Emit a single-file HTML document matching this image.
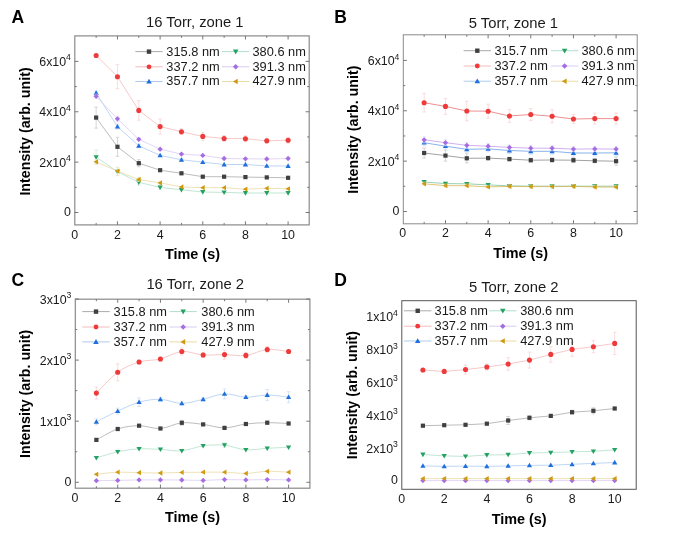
<!DOCTYPE html>
<html><head><meta charset="utf-8"><title>Intensity vs time</title>
<style>
html,body{margin:0;padding:0;background:#fff;}
body{width:685px;height:534px;overflow:hidden;}
svg{display:block;font-family:"Liberation Sans",sans-serif;will-change:transform;}
</style></head>
<body>
<svg width="685" height="534" viewBox="0 0 685 534">
<rect width="685" height="534" fill="#fff"/>
<text x="11.50" y="23.00" font-size="17.5" text-anchor="start" font-weight="bold" fill="#000" >A</text>
<text x="194.80" y="27.20" font-size="14.8" text-anchor="middle" font-weight="normal" fill="#1a1a1a" >16 Torr, zone 1</text>
<path d="M96.13,117.60 L117.46,146.80 L138.79,163.20 L160.12,170.20 L181.45,173.30 L202.78,176.70 L224.11,176.70 L245.44,177.10 L266.77,177.40 L288.10,177.80" fill="none" stroke="#ababab" stroke-width="0.8"/>
<path d="M96.13,107.10V128.10M94.33,107.10h3.6M94.33,128.10h3.6" stroke="#c8c8c8" stroke-width="0.75" fill="none"/>
<path d="M117.46,137.30V156.30M115.66,137.30h3.6M115.66,156.30h3.6" stroke="#c8c8c8" stroke-width="0.75" fill="none"/>
<path d="M138.79,159.70V166.70M136.99,159.70h3.6M136.99,166.70h3.6" stroke="#c8c8c8" stroke-width="0.75" fill="none"/>
<rect x="94.03" y="115.50" width="4.20" height="4.20" fill="#404040"/>
<rect x="115.36" y="144.70" width="4.20" height="4.20" fill="#404040"/>
<rect x="136.69" y="161.10" width="4.20" height="4.20" fill="#404040"/>
<rect x="158.02" y="168.10" width="4.20" height="4.20" fill="#404040"/>
<rect x="179.35" y="171.20" width="4.20" height="4.20" fill="#404040"/>
<rect x="200.68" y="174.60" width="4.20" height="4.20" fill="#404040"/>
<rect x="222.01" y="174.60" width="4.20" height="4.20" fill="#404040"/>
<rect x="243.34" y="175.00" width="4.20" height="4.20" fill="#404040"/>
<rect x="264.67" y="175.30" width="4.20" height="4.20" fill="#404040"/>
<rect x="286.00" y="175.70" width="4.20" height="4.20" fill="#404040"/>
<path d="M96.13,55.50 L117.46,76.70 L138.79,110.40 L160.12,126.60 L181.45,131.70 L202.78,136.40 L224.11,138.50 L245.44,138.70 L266.77,140.80 L288.10,140.20" fill="none" stroke="#f5baba" stroke-width="0.8"/>
<path d="M117.46,64.70V88.70M115.66,64.70h3.6M115.66,88.70h3.6" stroke="#f8d2d2" stroke-width="0.75" fill="none"/>
<path d="M138.79,100.60V120.20M136.99,100.60h3.6M136.99,120.20h3.6" stroke="#f8d2d2" stroke-width="0.75" fill="none"/>
<path d="M160.12,119.10V134.10M158.32,119.10h3.6M158.32,134.10h3.6" stroke="#f8d2d2" stroke-width="0.75" fill="none"/>
<path d="M181.45,128.70V134.70M179.65,128.70h3.6M179.65,134.70h3.6" stroke="#f8d2d2" stroke-width="0.75" fill="none"/>
<path d="M202.78,132.40V140.40M200.98,132.40h3.6M200.98,140.40h3.6" stroke="#f8d2d2" stroke-width="0.75" fill="none"/>
<path d="M224.11,135.50V141.50M222.31,135.50h3.6M222.31,141.50h3.6" stroke="#f8d2d2" stroke-width="0.75" fill="none"/>
<path d="M245.44,135.70V141.70M243.64,135.70h3.6M243.64,141.70h3.6" stroke="#f8d2d2" stroke-width="0.75" fill="none"/>
<path d="M266.77,138.30V143.30M264.97,138.30h3.6M264.97,143.30h3.6" stroke="#f8d2d2" stroke-width="0.75" fill="none"/>
<path d="M288.10,137.20V143.20M286.30,137.20h3.6M286.30,143.20h3.6" stroke="#f8d2d2" stroke-width="0.75" fill="none"/>
<circle cx="96.13" cy="55.50" r="2.55" fill="#ee3a3a"/>
<circle cx="117.46" cy="76.70" r="2.55" fill="#ee3a3a"/>
<circle cx="138.79" cy="110.40" r="2.55" fill="#ee3a3a"/>
<circle cx="160.12" cy="126.60" r="2.55" fill="#ee3a3a"/>
<circle cx="181.45" cy="131.70" r="2.55" fill="#ee3a3a"/>
<circle cx="202.78" cy="136.40" r="2.55" fill="#ee3a3a"/>
<circle cx="224.11" cy="138.50" r="2.55" fill="#ee3a3a"/>
<circle cx="245.44" cy="138.70" r="2.55" fill="#ee3a3a"/>
<circle cx="266.77" cy="140.80" r="2.55" fill="#ee3a3a"/>
<circle cx="288.10" cy="140.20" r="2.55" fill="#ee3a3a"/>
<path d="M96.13,93.00 L117.46,126.60 L138.79,145.80 L160.12,155.40 L181.45,159.80 L202.78,162.10 L224.11,164.50 L245.44,164.50 L266.77,165.90 L288.10,166.00" fill="none" stroke="#afcbf0" stroke-width="0.8"/>
<path d="M96.13,91.00V95.00M94.33,91.00h3.6M94.33,95.00h3.6" stroke="#cbddf5" stroke-width="0.75" fill="none"/>
<path d="M117.46,124.10V129.10M115.66,124.10h3.6M115.66,129.10h3.6" stroke="#cbddf5" stroke-width="0.75" fill="none"/>
<path d="M138.79,144.30V147.30M136.99,144.30h3.6M136.99,147.30h3.6" stroke="#cbddf5" stroke-width="0.75" fill="none"/>
<path d="M181.45,158.30V161.30M179.65,158.30h3.6M179.65,161.30h3.6" stroke="#cbddf5" stroke-width="0.75" fill="none"/>
<polygon points="96.13,90.35 98.78,94.91 93.48,94.91" fill="#1f6fdc"/>
<polygon points="117.46,123.95 120.11,128.51 114.81,128.51" fill="#1f6fdc"/>
<polygon points="138.79,143.15 141.44,147.71 136.14,147.71" fill="#1f6fdc"/>
<polygon points="160.12,152.75 162.77,157.31 157.47,157.31" fill="#1f6fdc"/>
<polygon points="181.45,157.15 184.10,161.71 178.80,161.71" fill="#1f6fdc"/>
<polygon points="202.78,159.45 205.43,164.01 200.13,164.01" fill="#1f6fdc"/>
<polygon points="224.11,161.85 226.76,166.41 221.46,166.41" fill="#1f6fdc"/>
<polygon points="245.44,161.85 248.09,166.41 242.79,166.41" fill="#1f6fdc"/>
<polygon points="266.77,163.25 269.42,167.81 264.12,167.81" fill="#1f6fdc"/>
<polygon points="288.10,163.35 290.75,167.91 285.45,167.91" fill="#1f6fdc"/>
<path d="M96.13,157.10 L117.46,171.70 L138.79,182.30 L160.12,187.40 L181.45,189.80 L202.78,192.00 L224.11,192.40 L245.44,193.00 L266.77,193.00 L288.10,193.00" fill="none" stroke="#b0dfc9" stroke-width="0.8"/>
<path d="M96.13,150.10V164.10M94.33,150.10h3.6M94.33,164.10h3.6" stroke="#cceadc" stroke-width="0.75" fill="none"/>
<path d="M117.46,167.70V175.70M115.66,167.70h3.6M115.66,175.70h3.6" stroke="#cceadc" stroke-width="0.75" fill="none"/>
<path d="M138.79,179.30V185.30M136.99,179.30h3.6M136.99,185.30h3.6" stroke="#cceadc" stroke-width="0.75" fill="none"/>
<path d="M160.12,185.40V189.40M158.32,185.40h3.6M158.32,189.40h3.6" stroke="#cceadc" stroke-width="0.75" fill="none"/>
<polygon points="96.13,159.75 98.78,155.19 93.48,155.19" fill="#25a263"/>
<polygon points="117.46,174.35 120.11,169.79 114.81,169.79" fill="#25a263"/>
<polygon points="138.79,184.95 141.44,180.39 136.14,180.39" fill="#25a263"/>
<polygon points="160.12,190.05 162.77,185.49 157.47,185.49" fill="#25a263"/>
<polygon points="181.45,192.45 184.10,187.89 178.80,187.89" fill="#25a263"/>
<polygon points="202.78,194.65 205.43,190.09 200.13,190.09" fill="#25a263"/>
<polygon points="224.11,195.05 226.76,190.49 221.46,190.49" fill="#25a263"/>
<polygon points="245.44,195.65 248.09,191.09 242.79,191.09" fill="#25a263"/>
<polygon points="266.77,195.65 269.42,191.09 264.12,191.09" fill="#25a263"/>
<polygon points="288.10,195.65 290.75,191.09 285.45,191.09" fill="#25a263"/>
<path d="M96.13,96.30 L117.46,118.80 L138.79,139.30 L160.12,149.20 L181.45,154.10 L202.78,155.40 L224.11,158.50 L245.44,158.80 L266.77,159.00 L288.10,158.50" fill="none" stroke="#dacbf4" stroke-width="0.8"/>
<path d="M96.13,94.30V98.30M94.33,94.30h3.6M94.33,98.30h3.6" stroke="#e7ddf8" stroke-width="0.75" fill="none"/>
<path d="M117.46,116.30V121.30M115.66,116.30h3.6M115.66,121.30h3.6" stroke="#e7ddf8" stroke-width="0.75" fill="none"/>
<path d="M138.79,137.80V140.80M136.99,137.80h3.6M136.99,140.80h3.6" stroke="#e7ddf8" stroke-width="0.75" fill="none"/>
<polygon points="96.13,93.65 98.78,96.30 96.13,98.95 93.48,96.30" fill="#a66ce2"/>
<polygon points="117.46,116.15 120.11,118.80 117.46,121.45 114.81,118.80" fill="#a66ce2"/>
<polygon points="138.79,136.65 141.44,139.30 138.79,141.95 136.14,139.30" fill="#a66ce2"/>
<polygon points="160.12,146.55 162.77,149.20 160.12,151.85 157.47,149.20" fill="#a66ce2"/>
<polygon points="181.45,151.45 184.10,154.10 181.45,156.75 178.80,154.10" fill="#a66ce2"/>
<polygon points="202.78,152.75 205.43,155.40 202.78,158.05 200.13,155.40" fill="#a66ce2"/>
<polygon points="224.11,155.85 226.76,158.50 224.11,161.15 221.46,158.50" fill="#a66ce2"/>
<polygon points="245.44,156.15 248.09,158.80 245.44,161.45 242.79,158.80" fill="#a66ce2"/>
<polygon points="266.77,156.35 269.42,159.00 266.77,161.65 264.12,159.00" fill="#a66ce2"/>
<polygon points="288.10,155.85 290.75,158.50 288.10,161.15 285.45,158.50" fill="#a66ce2"/>
<path d="M96.13,161.80 L117.46,171.10 L138.79,179.50 L160.12,182.90 L181.45,186.90 L202.78,187.70 L224.11,187.70 L245.44,189.20 L266.77,188.30 L288.10,188.80" fill="none" stroke="#eadba4" stroke-width="0.8"/>
<path d="M96.13,159.80V163.80M94.33,159.80h3.6M94.33,163.80h3.6" stroke="#f1e8c4" stroke-width="0.75" fill="none"/>
<path d="M117.46,167.10V175.10M115.66,167.10h3.6M115.66,175.10h3.6" stroke="#f1e8c4" stroke-width="0.75" fill="none"/>
<path d="M138.79,177.50V181.50M136.99,177.50h3.6M136.99,181.50h3.6" stroke="#f1e8c4" stroke-width="0.75" fill="none"/>
<path d="M160.12,181.40V184.40M158.32,181.40h3.6M158.32,184.40h3.6" stroke="#f1e8c4" stroke-width="0.75" fill="none"/>
<polygon points="93.48,161.80 98.04,159.15 98.04,164.45" fill="#cf9a12"/>
<polygon points="114.81,171.10 119.37,168.45 119.37,173.75" fill="#cf9a12"/>
<polygon points="136.14,179.50 140.70,176.85 140.70,182.15" fill="#cf9a12"/>
<polygon points="157.47,182.90 162.03,180.25 162.03,185.55" fill="#cf9a12"/>
<polygon points="178.80,186.90 183.36,184.25 183.36,189.55" fill="#cf9a12"/>
<polygon points="200.13,187.70 204.69,185.05 204.69,190.35" fill="#cf9a12"/>
<polygon points="221.46,187.70 226.02,185.05 226.02,190.35" fill="#cf9a12"/>
<polygon points="242.79,189.20 247.35,186.55 247.35,191.85" fill="#cf9a12"/>
<polygon points="264.12,188.30 268.68,185.65 268.68,190.95" fill="#cf9a12"/>
<polygon points="285.45,188.80 290.01,186.15 290.01,191.45" fill="#cf9a12"/>
<path d="M135.30,51.60h27.4" stroke="#ababab" stroke-width="1.0"/>
<rect x="146.79" y="49.40" width="4.41" height="4.41" fill="#404040"/>
<text x="166.30" y="55.50" font-size="12.8" text-anchor="start" font-weight="normal" fill="#1a1a1a" >315.8 nm</text>
<path d="M135.30,66.80h27.4" stroke="#f5baba" stroke-width="1.0"/>
<circle cx="149.00" cy="66.80" r="2.42" fill="#ee3a3a"/>
<text x="166.30" y="70.70" font-size="12.8" text-anchor="start" font-weight="normal" fill="#1a1a1a" >337.2 nm</text>
<path d="M135.30,81.50h27.4" stroke="#afcbf0" stroke-width="1.0"/>
<polygon points="149.00,78.72 151.78,83.50 146.22,83.50" fill="#1f6fdc"/>
<text x="166.30" y="85.40" font-size="12.8" text-anchor="start" font-weight="normal" fill="#1a1a1a" >357.7 nm</text>
<path d="M222.00,51.60h27.4" stroke="#b0dfc9" stroke-width="1.0"/>
<polygon points="235.70,54.38 238.48,49.60 232.92,49.60" fill="#25a263"/>
<text x="252.50" y="55.50" font-size="12.8" text-anchor="start" font-weight="normal" fill="#1a1a1a" >380.6 nm</text>
<path d="M222.00,66.80h27.4" stroke="#dacbf4" stroke-width="1.0"/>
<polygon points="235.70,64.02 238.48,66.80 235.70,69.58 232.92,66.80" fill="#a66ce2"/>
<text x="252.50" y="70.70" font-size="12.8" text-anchor="start" font-weight="normal" fill="#1a1a1a" >391.3 nm</text>
<path d="M222.00,81.50h27.4" stroke="#eadba4" stroke-width="1.0"/>
<polygon points="232.92,81.50 237.70,78.72 237.70,84.28" fill="#cf9a12"/>
<text x="252.50" y="85.40" font-size="12.8" text-anchor="start" font-weight="normal" fill="#1a1a1a" >427.9 nm</text>
<rect x="74.80" y="35.90" width="234.40" height="189.00" fill="none" stroke="#8a8a8a" stroke-width="1.2"/>
<path d="M96.13,224.90v-2.0M96.13,35.90v2.0M117.46,224.90v-3.6M117.46,35.90v3.6M138.79,224.90v-2.0M138.79,35.90v2.0M160.12,224.90v-3.6M160.12,35.90v3.6M181.45,224.90v-2.0M181.45,35.90v2.0M202.78,224.90v-3.6M202.78,35.90v3.6M224.11,224.90v-2.0M224.11,35.90v2.0M245.44,224.90v-3.6M245.44,35.90v3.6M266.77,224.90v-2.0M266.77,35.90v2.0M288.10,224.90v-3.6M288.10,35.90v3.6M74.80,212.50h3.6M309.20,212.50h-3.6M74.80,162.13h3.6M309.20,162.13h-3.6M74.80,111.76h3.6M309.20,111.76h-3.6M74.80,61.39h3.6M309.20,61.39h-3.6M74.80,187.31h2M309.20,187.31h-2M74.80,136.94h2M309.20,136.94h-2M74.80,86.58h2M309.20,86.58h-2M74.80,212.50h2M309.20,212.50h-2" stroke="#6a6a6a" stroke-width="0.9" fill="none"/>
<text x="74.80" y="238.50" font-size="12.4" text-anchor="middle" font-weight="normal" fill="#1a1a1a" >0</text>
<text x="117.46" y="238.50" font-size="12.4" text-anchor="middle" font-weight="normal" fill="#1a1a1a" >2</text>
<text x="160.12" y="238.50" font-size="12.4" text-anchor="middle" font-weight="normal" fill="#1a1a1a" >4</text>
<text x="202.78" y="238.50" font-size="12.4" text-anchor="middle" font-weight="normal" fill="#1a1a1a" >6</text>
<text x="245.44" y="238.50" font-size="12.4" text-anchor="middle" font-weight="normal" fill="#1a1a1a" >8</text>
<text x="288.10" y="238.50" font-size="12.4" text-anchor="middle" font-weight="normal" fill="#1a1a1a" >10</text>
<text x="70.90" y="216.00" font-size="12.4" text-anchor="end" font-weight="normal" fill="#1a1a1a" >0</text>
<text x="70.90" y="166.73" font-size="12.4" text-anchor="end" fill="#1a1a1a">2x10<tspan font-size="8.6" dy="-5.5">4</tspan></text>
<text x="70.90" y="116.36" font-size="12.4" text-anchor="end" fill="#1a1a1a">4x10<tspan font-size="8.6" dy="-5.5">4</tspan></text>
<text x="70.90" y="65.99" font-size="12.4" text-anchor="end" fill="#1a1a1a">6x10<tspan font-size="8.6" dy="-5.5">4</tspan></text>
<text x="192.50" y="259.10" font-size="14.4" text-anchor="middle" font-weight="bold" fill="#000" >Time (s)</text>
<text x="0" y="0" font-size="14.25" font-weight="bold" fill="#000" transform="translate(29.90,195.60) rotate(-90)">Intensity (arb. unit)</text>
<text x="334.30" y="23.00" font-size="17.5" text-anchor="start" font-weight="bold" fill="#000" >B</text>
<text x="513.40" y="28.00" font-size="14.8" text-anchor="middle" font-weight="normal" fill="#1a1a1a" >5 Torr, zone 1</text>
<path d="M424.13,153.00 L445.46,155.60 L466.79,158.30 L488.12,158.10 L509.45,159.10 L530.78,160.20 L552.11,160.00 L573.44,160.20 L594.77,160.80 L616.10,161.20" fill="none" stroke="#8a8a8a" stroke-width="0.8"/>
<path d="M424.13,148.00V158.00M422.33,148.00h3.6M422.33,158.00h3.6" stroke="#c8c8c8" stroke-width="0.75" fill="none"/>
<path d="M445.46,150.10V161.10M443.66,150.10h3.6M443.66,161.10h3.6" stroke="#c8c8c8" stroke-width="0.75" fill="none"/>
<path d="M466.79,153.80V162.80M464.99,153.80h3.6M464.99,162.80h3.6" stroke="#c8c8c8" stroke-width="0.75" fill="none"/>
<path d="M488.12,156.10V160.10M486.32,156.10h3.6M486.32,160.10h3.6" stroke="#c8c8c8" stroke-width="0.75" fill="none"/>
<path d="M509.45,157.10V161.10M507.65,157.10h3.6M507.65,161.10h3.6" stroke="#c8c8c8" stroke-width="0.75" fill="none"/>
<path d="M530.78,158.20V162.20M528.98,158.20h3.6M528.98,162.20h3.6" stroke="#c8c8c8" stroke-width="0.75" fill="none"/>
<path d="M552.11,158.00V162.00M550.31,158.00h3.6M550.31,162.00h3.6" stroke="#c8c8c8" stroke-width="0.75" fill="none"/>
<path d="M573.44,157.70V162.70M571.64,157.70h3.6M571.64,162.70h3.6" stroke="#c8c8c8" stroke-width="0.75" fill="none"/>
<path d="M594.77,158.80V162.80M592.97,158.80h3.6M592.97,162.80h3.6" stroke="#c8c8c8" stroke-width="0.75" fill="none"/>
<path d="M616.10,157.20V165.20M614.30,157.20h3.6M614.30,165.20h3.6" stroke="#c8c8c8" stroke-width="0.75" fill="none"/>
<rect x="422.03" y="150.90" width="4.20" height="4.20" fill="#404040"/>
<rect x="443.36" y="153.50" width="4.20" height="4.20" fill="#404040"/>
<rect x="464.69" y="156.20" width="4.20" height="4.20" fill="#404040"/>
<rect x="486.02" y="156.00" width="4.20" height="4.20" fill="#404040"/>
<rect x="507.35" y="157.00" width="4.20" height="4.20" fill="#404040"/>
<rect x="528.68" y="158.10" width="4.20" height="4.20" fill="#404040"/>
<rect x="550.01" y="157.90" width="4.20" height="4.20" fill="#404040"/>
<rect x="571.34" y="158.10" width="4.20" height="4.20" fill="#404040"/>
<rect x="592.67" y="158.70" width="4.20" height="4.20" fill="#404040"/>
<rect x="614.00" y="159.10" width="4.20" height="4.20" fill="#404040"/>
<path d="M424.13,102.70 L445.46,106.40 L466.79,111.00 L488.12,111.20 L509.45,116.00 L530.78,114.50 L552.11,116.30 L573.44,119.00 L594.77,118.60 L616.10,118.60" fill="none" stroke="#e87474" stroke-width="0.8"/>
<path d="M424.13,93.40V112.00M422.33,93.40h3.6M422.33,112.00h3.6" stroke="#f8d2d2" stroke-width="0.75" fill="none"/>
<path d="M445.46,98.40V114.40M443.66,98.40h3.6M443.66,114.40h3.6" stroke="#f8d2d2" stroke-width="0.75" fill="none"/>
<path d="M466.79,101.20V120.80M464.99,101.20h3.6M464.99,120.80h3.6" stroke="#f8d2d2" stroke-width="0.75" fill="none"/>
<path d="M488.12,104.20V118.20M486.32,104.20h3.6M486.32,118.20h3.6" stroke="#f8d2d2" stroke-width="0.75" fill="none"/>
<path d="M509.45,109.60V122.40M507.65,109.60h3.6M507.65,122.40h3.6" stroke="#f8d2d2" stroke-width="0.75" fill="none"/>
<path d="M530.78,108.50V120.50M528.98,108.50h3.6M528.98,120.50h3.6" stroke="#f8d2d2" stroke-width="0.75" fill="none"/>
<path d="M552.11,109.80V122.80M550.31,109.80h3.6M550.31,122.80h3.6" stroke="#f8d2d2" stroke-width="0.75" fill="none"/>
<path d="M573.44,114.50V123.50M571.64,114.50h3.6M571.64,123.50h3.6" stroke="#f8d2d2" stroke-width="0.75" fill="none"/>
<path d="M594.77,113.10V124.10M592.97,113.10h3.6M592.97,124.10h3.6" stroke="#f8d2d2" stroke-width="0.75" fill="none"/>
<path d="M616.10,113.10V124.10M614.30,113.10h3.6M614.30,124.10h3.6" stroke="#f8d2d2" stroke-width="0.75" fill="none"/>
<circle cx="424.13" cy="102.70" r="2.55" fill="#ee3a3a"/>
<circle cx="445.46" cy="106.40" r="2.55" fill="#ee3a3a"/>
<circle cx="466.79" cy="111.00" r="2.55" fill="#ee3a3a"/>
<circle cx="488.12" cy="111.20" r="2.55" fill="#ee3a3a"/>
<circle cx="509.45" cy="116.00" r="2.55" fill="#ee3a3a"/>
<circle cx="530.78" cy="114.50" r="2.55" fill="#ee3a3a"/>
<circle cx="552.11" cy="116.30" r="2.55" fill="#ee3a3a"/>
<circle cx="573.44" cy="119.00" r="2.55" fill="#ee3a3a"/>
<circle cx="594.77" cy="118.60" r="2.55" fill="#ee3a3a"/>
<circle cx="616.10" cy="118.60" r="2.55" fill="#ee3a3a"/>
<path d="M424.13,142.70 L445.46,146.20 L466.79,149.30 L488.12,148.90 L509.45,150.50 L530.78,151.30 L552.11,151.30 L573.44,153.00 L594.77,153.00 L616.10,152.80" fill="none" stroke="#6a9ee6" stroke-width="0.8"/>
<path d="M424.13,139.70V145.70M422.33,139.70h3.6M422.33,145.70h3.6" stroke="#cbddf5" stroke-width="0.75" fill="none"/>
<path d="M445.46,143.20V149.20M443.66,143.20h3.6M443.66,149.20h3.6" stroke="#cbddf5" stroke-width="0.75" fill="none"/>
<path d="M466.79,146.30V152.30M464.99,146.30h3.6M464.99,152.30h3.6" stroke="#cbddf5" stroke-width="0.75" fill="none"/>
<path d="M488.12,145.90V151.90M486.32,145.90h3.6M486.32,151.90h3.6" stroke="#cbddf5" stroke-width="0.75" fill="none"/>
<path d="M509.45,147.50V153.50M507.65,147.50h3.6M507.65,153.50h3.6" stroke="#cbddf5" stroke-width="0.75" fill="none"/>
<path d="M530.78,148.30V154.30M528.98,148.30h3.6M528.98,154.30h3.6" stroke="#cbddf5" stroke-width="0.75" fill="none"/>
<path d="M552.11,148.30V154.30M550.31,148.30h3.6M550.31,154.30h3.6" stroke="#cbddf5" stroke-width="0.75" fill="none"/>
<path d="M573.44,150.00V156.00M571.64,150.00h3.6M571.64,156.00h3.6" stroke="#cbddf5" stroke-width="0.75" fill="none"/>
<path d="M594.77,150.00V156.00M592.97,150.00h3.6M592.97,156.00h3.6" stroke="#cbddf5" stroke-width="0.75" fill="none"/>
<path d="M616.10,149.80V155.80M614.30,149.80h3.6M614.30,155.80h3.6" stroke="#cbddf5" stroke-width="0.75" fill="none"/>
<polygon points="424.13,140.05 426.78,144.61 421.48,144.61" fill="#1f6fdc"/>
<polygon points="445.46,143.55 448.11,148.11 442.81,148.11" fill="#1f6fdc"/>
<polygon points="466.79,146.65 469.44,151.21 464.14,151.21" fill="#1f6fdc"/>
<polygon points="488.12,146.25 490.77,150.81 485.47,150.81" fill="#1f6fdc"/>
<polygon points="509.45,147.85 512.10,152.41 506.80,152.41" fill="#1f6fdc"/>
<polygon points="530.78,148.65 533.43,153.21 528.13,153.21" fill="#1f6fdc"/>
<polygon points="552.11,148.65 554.76,153.21 549.46,153.21" fill="#1f6fdc"/>
<polygon points="573.44,150.35 576.09,154.91 570.79,154.91" fill="#1f6fdc"/>
<polygon points="594.77,150.35 597.42,154.91 592.12,154.91" fill="#1f6fdc"/>
<polygon points="616.10,150.15 618.75,154.71 613.45,154.71" fill="#1f6fdc"/>
<path d="M424.13,182.00 L445.46,183.60 L466.79,183.80 L488.12,184.90 L509.45,185.90 L530.78,186.20 L552.11,186.20 L573.44,186.20 L594.77,186.20 L616.10,186.20" fill="none" stroke="#7cc49c" stroke-width="0.8"/>
<path d="M424.13,180.50V183.50M422.33,180.50h3.6M422.33,183.50h3.6" stroke="#cceadc" stroke-width="0.75" fill="none"/>
<path d="M445.46,182.10V185.10M443.66,182.10h3.6M443.66,185.10h3.6" stroke="#cceadc" stroke-width="0.75" fill="none"/>
<path d="M466.79,182.30V185.30M464.99,182.30h3.6M464.99,185.30h3.6" stroke="#cceadc" stroke-width="0.75" fill="none"/>
<path d="M488.12,183.40V186.40M486.32,183.40h3.6M486.32,186.40h3.6" stroke="#cceadc" stroke-width="0.75" fill="none"/>
<path d="M509.45,184.40V187.40M507.65,184.40h3.6M507.65,187.40h3.6" stroke="#cceadc" stroke-width="0.75" fill="none"/>
<path d="M530.78,184.70V187.70M528.98,184.70h3.6M528.98,187.70h3.6" stroke="#cceadc" stroke-width="0.75" fill="none"/>
<path d="M552.11,184.70V187.70M550.31,184.70h3.6M550.31,187.70h3.6" stroke="#cceadc" stroke-width="0.75" fill="none"/>
<path d="M573.44,184.70V187.70M571.64,184.70h3.6M571.64,187.70h3.6" stroke="#cceadc" stroke-width="0.75" fill="none"/>
<path d="M594.77,184.70V187.70M592.97,184.70h3.6M592.97,187.70h3.6" stroke="#cceadc" stroke-width="0.75" fill="none"/>
<path d="M616.10,184.70V187.70M614.30,184.70h3.6M614.30,187.70h3.6" stroke="#cceadc" stroke-width="0.75" fill="none"/>
<polygon points="424.13,184.65 426.78,180.09 421.48,180.09" fill="#25a263"/>
<polygon points="445.46,186.25 448.11,181.69 442.81,181.69" fill="#25a263"/>
<polygon points="466.79,186.45 469.44,181.89 464.14,181.89" fill="#25a263"/>
<polygon points="488.12,187.55 490.77,182.99 485.47,182.99" fill="#25a263"/>
<polygon points="509.45,188.55 512.10,183.99 506.80,183.99" fill="#25a263"/>
<polygon points="530.78,188.85 533.43,184.29 528.13,184.29" fill="#25a263"/>
<polygon points="552.11,188.85 554.76,184.29 549.46,184.29" fill="#25a263"/>
<polygon points="573.44,188.85 576.09,184.29 570.79,184.29" fill="#25a263"/>
<polygon points="594.77,188.85 597.42,184.29 592.12,184.29" fill="#25a263"/>
<polygon points="616.10,188.85 618.75,184.29 613.45,184.29" fill="#25a263"/>
<path d="M424.13,139.80 L445.46,142.70 L466.79,145.30 L488.12,146.20 L509.45,147.40 L530.78,148.20 L552.11,148.20 L573.44,149.10 L594.77,148.90 L616.10,149.10" fill="none" stroke="#c49ceb" stroke-width="0.8"/>
<path d="M424.13,136.80V142.80M422.33,136.80h3.6M422.33,142.80h3.6" stroke="#e7ddf8" stroke-width="0.75" fill="none"/>
<path d="M445.46,139.70V145.70M443.66,139.70h3.6M443.66,145.70h3.6" stroke="#e7ddf8" stroke-width="0.75" fill="none"/>
<path d="M466.79,142.30V148.30M464.99,142.30h3.6M464.99,148.30h3.6" stroke="#e7ddf8" stroke-width="0.75" fill="none"/>
<path d="M488.12,143.70V148.70M486.32,143.70h3.6M486.32,148.70h3.6" stroke="#e7ddf8" stroke-width="0.75" fill="none"/>
<path d="M509.45,144.90V149.90M507.65,144.90h3.6M507.65,149.90h3.6" stroke="#e7ddf8" stroke-width="0.75" fill="none"/>
<path d="M530.78,145.70V150.70M528.98,145.70h3.6M528.98,150.70h3.6" stroke="#e7ddf8" stroke-width="0.75" fill="none"/>
<path d="M552.11,145.70V150.70M550.31,145.70h3.6M550.31,150.70h3.6" stroke="#e7ddf8" stroke-width="0.75" fill="none"/>
<path d="M573.44,146.60V151.60M571.64,146.60h3.6M571.64,151.60h3.6" stroke="#e7ddf8" stroke-width="0.75" fill="none"/>
<path d="M594.77,146.40V151.40M592.97,146.40h3.6M592.97,151.40h3.6" stroke="#e7ddf8" stroke-width="0.75" fill="none"/>
<path d="M616.10,146.60V151.60M614.30,146.60h3.6M614.30,151.60h3.6" stroke="#e7ddf8" stroke-width="0.75" fill="none"/>
<polygon points="424.13,137.15 426.78,139.80 424.13,142.45 421.48,139.80" fill="#a66ce2"/>
<polygon points="445.46,140.05 448.11,142.70 445.46,145.35 442.81,142.70" fill="#a66ce2"/>
<polygon points="466.79,142.65 469.44,145.30 466.79,147.95 464.14,145.30" fill="#a66ce2"/>
<polygon points="488.12,143.55 490.77,146.20 488.12,148.85 485.47,146.20" fill="#a66ce2"/>
<polygon points="509.45,144.75 512.10,147.40 509.45,150.05 506.80,147.40" fill="#a66ce2"/>
<polygon points="530.78,145.55 533.43,148.20 530.78,150.85 528.13,148.20" fill="#a66ce2"/>
<polygon points="552.11,145.55 554.76,148.20 552.11,150.85 549.46,148.20" fill="#a66ce2"/>
<polygon points="573.44,146.45 576.09,149.10 573.44,151.75 570.79,149.10" fill="#a66ce2"/>
<polygon points="594.77,146.25 597.42,148.90 594.77,151.55 592.12,148.90" fill="#a66ce2"/>
<polygon points="616.10,146.45 618.75,149.10 616.10,151.75 613.45,149.10" fill="#a66ce2"/>
<path d="M424.13,183.80 L445.46,185.70 L466.79,185.70 L488.12,186.90 L509.45,186.40 L530.78,186.60 L552.11,186.60 L573.44,186.30 L594.77,187.00 L616.10,187.00" fill="none" stroke="#d8b550" stroke-width="0.8"/>
<path d="M424.13,182.30V185.30M422.33,182.30h3.6M422.33,185.30h3.6" stroke="#f1e8c4" stroke-width="0.75" fill="none"/>
<path d="M445.46,184.20V187.20M443.66,184.20h3.6M443.66,187.20h3.6" stroke="#f1e8c4" stroke-width="0.75" fill="none"/>
<path d="M466.79,184.20V187.20M464.99,184.20h3.6M464.99,187.20h3.6" stroke="#f1e8c4" stroke-width="0.75" fill="none"/>
<path d="M488.12,185.40V188.40M486.32,185.40h3.6M486.32,188.40h3.6" stroke="#f1e8c4" stroke-width="0.75" fill="none"/>
<path d="M509.45,184.90V187.90M507.65,184.90h3.6M507.65,187.90h3.6" stroke="#f1e8c4" stroke-width="0.75" fill="none"/>
<path d="M530.78,185.10V188.10M528.98,185.10h3.6M528.98,188.10h3.6" stroke="#f1e8c4" stroke-width="0.75" fill="none"/>
<path d="M552.11,185.10V188.10M550.31,185.10h3.6M550.31,188.10h3.6" stroke="#f1e8c4" stroke-width="0.75" fill="none"/>
<path d="M573.44,184.80V187.80M571.64,184.80h3.6M571.64,187.80h3.6" stroke="#f1e8c4" stroke-width="0.75" fill="none"/>
<path d="M594.77,185.50V188.50M592.97,185.50h3.6M592.97,188.50h3.6" stroke="#f1e8c4" stroke-width="0.75" fill="none"/>
<path d="M616.10,185.50V188.50M614.30,185.50h3.6M614.30,188.50h3.6" stroke="#f1e8c4" stroke-width="0.75" fill="none"/>
<polygon points="421.48,183.80 426.04,181.15 426.04,186.45" fill="#cf9a12"/>
<polygon points="442.81,185.70 447.37,183.05 447.37,188.35" fill="#cf9a12"/>
<polygon points="464.14,185.70 468.70,183.05 468.70,188.35" fill="#cf9a12"/>
<polygon points="485.47,186.90 490.03,184.25 490.03,189.55" fill="#cf9a12"/>
<polygon points="506.80,186.40 511.36,183.75 511.36,189.05" fill="#cf9a12"/>
<polygon points="528.13,186.60 532.69,183.95 532.69,189.25" fill="#cf9a12"/>
<polygon points="549.46,186.60 554.02,183.95 554.02,189.25" fill="#cf9a12"/>
<polygon points="570.79,186.30 575.35,183.65 575.35,188.95" fill="#cf9a12"/>
<polygon points="592.12,187.00 596.68,184.35 596.68,189.65" fill="#cf9a12"/>
<polygon points="613.45,187.00 618.01,184.35 618.01,189.65" fill="#cf9a12"/>
<path d="M463.60,50.70h27.4" stroke="#ababab" stroke-width="1.0"/>
<rect x="475.10" y="48.50" width="4.41" height="4.41" fill="#404040"/>
<text x="494.50" y="54.60" font-size="12.8" text-anchor="start" font-weight="normal" fill="#1a1a1a" >315.7 nm</text>
<path d="M463.60,66.00h27.4" stroke="#f5baba" stroke-width="1.0"/>
<circle cx="477.30" cy="66.00" r="2.42" fill="#ee3a3a"/>
<text x="494.50" y="69.90" font-size="12.8" text-anchor="start" font-weight="normal" fill="#1a1a1a" >337.2 nm</text>
<path d="M463.60,81.20h27.4" stroke="#afcbf0" stroke-width="1.0"/>
<polygon points="477.30,78.42 480.08,83.20 474.52,83.20" fill="#1f6fdc"/>
<text x="494.50" y="85.10" font-size="12.8" text-anchor="start" font-weight="normal" fill="#1a1a1a" >357.7 nm</text>
<path d="M550.90,50.70h27.4" stroke="#b0dfc9" stroke-width="1.0"/>
<polygon points="564.60,53.48 567.38,48.70 561.82,48.70" fill="#25a263"/>
<text x="581.50" y="54.60" font-size="12.8" text-anchor="start" font-weight="normal" fill="#1a1a1a" >380.6 nm</text>
<path d="M550.90,66.00h27.4" stroke="#dacbf4" stroke-width="1.0"/>
<polygon points="564.60,63.22 567.38,66.00 564.60,68.78 561.82,66.00" fill="#a66ce2"/>
<text x="581.50" y="69.90" font-size="12.8" text-anchor="start" font-weight="normal" fill="#1a1a1a" >391.3 nm</text>
<path d="M550.90,81.20h27.4" stroke="#eadba4" stroke-width="1.0"/>
<polygon points="561.82,81.20 566.60,78.42 566.60,83.98" fill="#cf9a12"/>
<text x="581.50" y="85.10" font-size="12.8" text-anchor="start" font-weight="normal" fill="#1a1a1a" >427.9 nm</text>
<rect x="403.30" y="34.80" width="233.90" height="189.00" fill="none" stroke="#8a8a8a" stroke-width="1.0"/>
<path d="M424.13,223.80v-2.0M424.13,34.80v2.0M445.46,223.80v-3.6M445.46,34.80v3.6M466.79,223.80v-2.0M466.79,34.80v2.0M488.12,223.80v-3.6M488.12,34.80v3.6M509.45,223.80v-2.0M509.45,34.80v2.0M530.78,223.80v-3.6M530.78,34.80v3.6M552.11,223.80v-2.0M552.11,34.80v2.0M573.44,223.80v-3.6M573.44,34.80v3.6M594.77,223.80v-2.0M594.77,34.80v2.0M616.10,223.80v-3.6M616.10,34.80v3.6M403.30,211.50h3.6M637.20,211.50h-3.6M403.30,161.14h3.6M637.20,161.14h-3.6M403.30,110.78h3.6M637.20,110.78h-3.6M403.30,60.42h3.6M637.20,60.42h-3.6M403.30,186.32h2M637.20,186.32h-2M403.30,135.96h2M637.20,135.96h-2M403.30,85.60h2M637.20,85.60h-2" stroke="#6a6a6a" stroke-width="0.9" fill="none"/>
<text x="402.80" y="237.40" font-size="12.4" text-anchor="middle" font-weight="normal" fill="#1a1a1a" >0</text>
<text x="445.46" y="237.40" font-size="12.4" text-anchor="middle" font-weight="normal" fill="#1a1a1a" >2</text>
<text x="488.12" y="237.40" font-size="12.4" text-anchor="middle" font-weight="normal" fill="#1a1a1a" >4</text>
<text x="530.78" y="237.40" font-size="12.4" text-anchor="middle" font-weight="normal" fill="#1a1a1a" >6</text>
<text x="573.44" y="237.40" font-size="12.4" text-anchor="middle" font-weight="normal" fill="#1a1a1a" >8</text>
<text x="616.10" y="237.40" font-size="12.4" text-anchor="middle" font-weight="normal" fill="#1a1a1a" >10</text>
<text x="399.40" y="215.00" font-size="12.4" text-anchor="end" font-weight="normal" fill="#1a1a1a" >0</text>
<text x="399.40" y="165.74" font-size="12.4" text-anchor="end" fill="#1a1a1a">2x10<tspan font-size="8.6" dy="-5.5">4</tspan></text>
<text x="399.40" y="115.38" font-size="12.4" text-anchor="end" fill="#1a1a1a">4x10<tspan font-size="8.6" dy="-5.5">4</tspan></text>
<text x="399.40" y="65.02" font-size="12.4" text-anchor="end" fill="#1a1a1a">6x10<tspan font-size="8.6" dy="-5.5">4</tspan></text>
<text x="520.60" y="258.00" font-size="14.4" text-anchor="middle" font-weight="bold" fill="#000" >Time (s)</text>
<text x="0" y="0" font-size="14.25" font-weight="bold" fill="#000" transform="translate(358.00,193.80) rotate(-90)">Intensity (arb. unit)</text>
<text x="11.50" y="286.00" font-size="17.5" text-anchor="start" font-weight="bold" fill="#000" >C</text>
<text x="195.20" y="288.70" font-size="14.8" text-anchor="middle" font-weight="normal" fill="#1a1a1a" >16 Torr, zone 2</text>
<path d="M96.36,439.90 C99.92,438.08 110.60,431.37 117.72,429.00 C124.84,426.63 131.96,425.78 139.08,425.70 C146.20,425.62 153.32,428.98 160.44,428.50 C167.56,428.02 174.68,423.48 181.80,422.80 C188.92,422.12 196.04,423.55 203.16,424.40 C210.28,425.25 217.40,427.97 224.52,427.90 C231.64,427.83 238.76,424.87 245.88,424.00 C253.00,423.13 260.12,422.78 267.24,422.70 C274.36,422.62 285.04,423.37 288.60,423.50" fill="none" stroke="#ababab" stroke-width="0.8"/>
<path d="M96.36,438.40V441.40M94.56,438.40h3.6M94.56,441.40h3.6" stroke="#c8c8c8" stroke-width="0.75" fill="none"/>
<path d="M181.80,420.30V425.30M180.00,420.30h3.6M180.00,425.30h3.6" stroke="#c8c8c8" stroke-width="0.75" fill="none"/>
<path d="M224.52,426.40V429.40M222.72,426.40h3.6M222.72,429.40h3.6" stroke="#c8c8c8" stroke-width="0.75" fill="none"/>
<path d="M267.24,421.20V424.20M265.44,421.20h3.6M265.44,424.20h3.6" stroke="#c8c8c8" stroke-width="0.75" fill="none"/>
<rect x="94.26" y="437.80" width="4.20" height="4.20" fill="#404040"/>
<rect x="115.62" y="426.90" width="4.20" height="4.20" fill="#404040"/>
<rect x="136.98" y="423.60" width="4.20" height="4.20" fill="#404040"/>
<rect x="158.34" y="426.40" width="4.20" height="4.20" fill="#404040"/>
<rect x="179.70" y="420.70" width="4.20" height="4.20" fill="#404040"/>
<rect x="201.06" y="422.30" width="4.20" height="4.20" fill="#404040"/>
<rect x="222.42" y="425.80" width="4.20" height="4.20" fill="#404040"/>
<rect x="243.78" y="421.90" width="4.20" height="4.20" fill="#404040"/>
<rect x="265.14" y="420.60" width="4.20" height="4.20" fill="#404040"/>
<rect x="286.50" y="421.40" width="4.20" height="4.20" fill="#404040"/>
<path d="M96.36,393.10 C99.92,389.63 110.60,377.48 117.72,372.30 C124.84,367.12 131.96,364.22 139.08,362.00 C146.20,359.78 153.32,360.75 160.44,359.00 C167.56,357.25 174.68,352.17 181.80,351.50 C188.92,350.83 196.04,354.48 203.16,355.00 C210.28,355.52 217.40,354.53 224.52,354.60 C231.64,354.67 238.76,356.25 245.88,355.40 C253.00,354.55 260.12,350.15 267.24,349.50 C274.36,348.85 285.04,351.17 288.60,351.50" fill="none" stroke="#f5baba" stroke-width="0.8"/>
<path d="M96.36,387.10V399.10M94.56,387.10h3.6M94.56,399.10h3.6" stroke="#f8d2d2" stroke-width="0.75" fill="none"/>
<path d="M117.72,363.80V380.80M115.92,363.80h3.6M115.92,380.80h3.6" stroke="#f8d2d2" stroke-width="0.75" fill="none"/>
<path d="M139.08,360.00V364.00M137.28,360.00h3.6M137.28,364.00h3.6" stroke="#f8d2d2" stroke-width="0.75" fill="none"/>
<path d="M160.44,357.00V361.00M158.64,357.00h3.6M158.64,361.00h3.6" stroke="#f8d2d2" stroke-width="0.75" fill="none"/>
<path d="M181.80,348.00V355.00M180.00,348.00h3.6M180.00,355.00h3.6" stroke="#f8d2d2" stroke-width="0.75" fill="none"/>
<path d="M203.16,352.50V357.50M201.36,352.50h3.6M201.36,357.50h3.6" stroke="#f8d2d2" stroke-width="0.75" fill="none"/>
<path d="M224.52,350.10V359.10M222.72,350.10h3.6M222.72,359.10h3.6" stroke="#f8d2d2" stroke-width="0.75" fill="none"/>
<path d="M245.88,352.40V358.40M244.08,352.40h3.6M244.08,358.40h3.6" stroke="#f8d2d2" stroke-width="0.75" fill="none"/>
<path d="M267.24,346.50V352.50M265.44,346.50h3.6M265.44,352.50h3.6" stroke="#f8d2d2" stroke-width="0.75" fill="none"/>
<path d="M288.60,350.00V353.00M286.80,350.00h3.6M286.80,353.00h3.6" stroke="#f8d2d2" stroke-width="0.75" fill="none"/>
<circle cx="96.36" cy="393.10" r="2.55" fill="#ee3a3a"/>
<circle cx="117.72" cy="372.30" r="2.55" fill="#ee3a3a"/>
<circle cx="139.08" cy="362.00" r="2.55" fill="#ee3a3a"/>
<circle cx="160.44" cy="359.00" r="2.55" fill="#ee3a3a"/>
<circle cx="181.80" cy="351.50" r="2.55" fill="#ee3a3a"/>
<circle cx="203.16" cy="355.00" r="2.55" fill="#ee3a3a"/>
<circle cx="224.52" cy="354.60" r="2.55" fill="#ee3a3a"/>
<circle cx="245.88" cy="355.40" r="2.55" fill="#ee3a3a"/>
<circle cx="267.24" cy="349.50" r="2.55" fill="#ee3a3a"/>
<circle cx="288.60" cy="351.50" r="2.55" fill="#ee3a3a"/>
<path d="M96.36,421.80 C99.92,420.02 110.60,414.37 117.72,411.10 C124.84,407.83 131.96,404.17 139.08,402.20 C146.20,400.23 153.32,399.10 160.44,399.30 C167.56,399.50 174.68,403.40 181.80,403.40 C188.92,403.40 196.04,400.88 203.16,399.30 C210.28,397.72 217.40,394.25 224.52,393.90 C231.64,393.55 238.76,397.02 245.88,397.20 C253.00,397.38 260.12,395.00 267.24,395.00 C274.36,395.00 285.04,396.83 288.60,397.20" fill="none" stroke="#afcbf0" stroke-width="0.8"/>
<path d="M96.36,418.80V424.80M94.56,418.80h3.6M94.56,424.80h3.6" stroke="#cbddf5" stroke-width="0.75" fill="none"/>
<path d="M117.72,408.10V414.10M115.92,408.10h3.6M115.92,414.10h3.6" stroke="#cbddf5" stroke-width="0.75" fill="none"/>
<path d="M139.08,397.90V406.50M137.28,397.90h3.6M137.28,406.50h3.6" stroke="#cbddf5" stroke-width="0.75" fill="none"/>
<path d="M160.44,397.30V401.30M158.64,397.30h3.6M158.64,401.30h3.6" stroke="#cbddf5" stroke-width="0.75" fill="none"/>
<path d="M181.80,401.90V404.90M180.00,401.90h3.6M180.00,404.90h3.6" stroke="#cbddf5" stroke-width="0.75" fill="none"/>
<path d="M203.16,397.80V400.80M201.36,397.80h3.6M201.36,400.80h3.6" stroke="#cbddf5" stroke-width="0.75" fill="none"/>
<path d="M224.52,388.90V398.90M222.72,388.90h3.6M222.72,398.90h3.6" stroke="#cbddf5" stroke-width="0.75" fill="none"/>
<path d="M245.88,395.70V398.70M244.08,395.70h3.6M244.08,398.70h3.6" stroke="#cbddf5" stroke-width="0.75" fill="none"/>
<path d="M267.24,389.50V400.50M265.44,389.50h3.6M265.44,400.50h3.6" stroke="#cbddf5" stroke-width="0.75" fill="none"/>
<path d="M288.60,391.70V402.70M286.80,391.70h3.6M286.80,402.70h3.6" stroke="#cbddf5" stroke-width="0.75" fill="none"/>
<polygon points="96.36,419.15 99.01,423.71 93.71,423.71" fill="#1f6fdc"/>
<polygon points="117.72,408.45 120.37,413.01 115.07,413.01" fill="#1f6fdc"/>
<polygon points="139.08,399.55 141.73,404.11 136.43,404.11" fill="#1f6fdc"/>
<polygon points="160.44,396.65 163.09,401.21 157.79,401.21" fill="#1f6fdc"/>
<polygon points="181.80,400.75 184.45,405.31 179.15,405.31" fill="#1f6fdc"/>
<polygon points="203.16,396.65 205.81,401.21 200.51,401.21" fill="#1f6fdc"/>
<polygon points="224.52,391.25 227.17,395.81 221.87,395.81" fill="#1f6fdc"/>
<polygon points="245.88,394.55 248.53,399.11 243.23,399.11" fill="#1f6fdc"/>
<polygon points="267.24,392.35 269.89,396.91 264.59,396.91" fill="#1f6fdc"/>
<polygon points="288.60,394.55 291.25,399.11 285.95,399.11" fill="#1f6fdc"/>
<path d="M96.36,457.90 C99.92,456.88 110.60,453.30 117.72,451.80 C124.84,450.30 131.96,449.30 139.08,448.90 C146.20,448.50 153.32,449.08 160.44,449.40 C167.56,449.72 174.68,451.38 181.80,450.80 C188.92,450.22 196.04,446.83 203.16,445.90 C210.28,444.97 217.40,444.55 224.52,445.20 C231.64,445.85 238.76,449.28 245.88,449.80 C253.00,450.32 260.12,448.72 267.24,448.30 C274.36,447.88 285.04,447.47 288.60,447.30" fill="none" stroke="#b0dfc9" stroke-width="0.8"/>
<path d="M224.52,442.70V447.70M222.72,442.70h3.6M222.72,447.70h3.6" stroke="#cceadc" stroke-width="0.75" fill="none"/>
<polygon points="96.36,460.55 99.01,455.99 93.71,455.99" fill="#25a263"/>
<polygon points="117.72,454.45 120.37,449.89 115.07,449.89" fill="#25a263"/>
<polygon points="139.08,451.55 141.73,446.99 136.43,446.99" fill="#25a263"/>
<polygon points="160.44,452.05 163.09,447.49 157.79,447.49" fill="#25a263"/>
<polygon points="181.80,453.45 184.45,448.89 179.15,448.89" fill="#25a263"/>
<polygon points="203.16,448.55 205.81,443.99 200.51,443.99" fill="#25a263"/>
<polygon points="224.52,447.85 227.17,443.29 221.87,443.29" fill="#25a263"/>
<polygon points="245.88,452.45 248.53,447.89 243.23,447.89" fill="#25a263"/>
<polygon points="267.24,450.95 269.89,446.39 264.59,446.39" fill="#25a263"/>
<polygon points="288.60,449.95 291.25,445.39 285.95,445.39" fill="#25a263"/>
<path d="M96.36,480.70 C99.92,480.65 110.60,480.53 117.72,480.40 C124.84,480.27 131.96,479.98 139.08,479.90 C146.20,479.82 153.32,479.88 160.44,479.90 C167.56,479.92 174.68,479.92 181.80,480.00 C188.92,480.08 196.04,480.47 203.16,480.40 C210.28,480.33 217.40,479.68 224.52,479.60 C231.64,479.52 238.76,479.90 245.88,479.90 C253.00,479.90 260.12,479.60 267.24,479.60 C274.36,479.60 285.04,479.85 288.60,479.90" fill="none" stroke="#dacbf4" stroke-width="0.8"/>
<polygon points="96.36,478.05 99.01,480.70 96.36,483.35 93.71,480.70" fill="#a66ce2"/>
<polygon points="117.72,477.75 120.37,480.40 117.72,483.05 115.07,480.40" fill="#a66ce2"/>
<polygon points="139.08,477.25 141.73,479.90 139.08,482.55 136.43,479.90" fill="#a66ce2"/>
<polygon points="160.44,477.25 163.09,479.90 160.44,482.55 157.79,479.90" fill="#a66ce2"/>
<polygon points="181.80,477.35 184.45,480.00 181.80,482.65 179.15,480.00" fill="#a66ce2"/>
<polygon points="203.16,477.75 205.81,480.40 203.16,483.05 200.51,480.40" fill="#a66ce2"/>
<polygon points="224.52,476.95 227.17,479.60 224.52,482.25 221.87,479.60" fill="#a66ce2"/>
<polygon points="245.88,477.25 248.53,479.90 245.88,482.55 243.23,479.90" fill="#a66ce2"/>
<polygon points="267.24,476.95 269.89,479.60 267.24,482.25 264.59,479.60" fill="#a66ce2"/>
<polygon points="288.60,477.25 291.25,479.90 288.60,482.55 285.95,479.90" fill="#a66ce2"/>
<path d="M96.36,474.30 C99.92,473.95 110.60,472.47 117.72,472.20 C124.84,471.93 131.96,472.57 139.08,472.70 C146.20,472.83 153.32,473.05 160.44,473.00 C167.56,472.95 174.68,472.53 181.80,472.40 C188.92,472.27 196.04,472.23 203.16,472.20 C210.28,472.17 217.40,472.00 224.52,472.20 C231.64,472.40 238.76,473.55 245.88,473.40 C253.00,473.25 260.12,471.50 267.24,471.30 C274.36,471.10 285.04,472.05 288.60,472.20" fill="none" stroke="#eadba4" stroke-width="0.8"/>
<polygon points="93.71,474.30 98.27,471.65 98.27,476.95" fill="#cf9a12"/>
<polygon points="115.07,472.20 119.63,469.55 119.63,474.85" fill="#cf9a12"/>
<polygon points="136.43,472.70 140.99,470.05 140.99,475.35" fill="#cf9a12"/>
<polygon points="157.79,473.00 162.35,470.35 162.35,475.65" fill="#cf9a12"/>
<polygon points="179.15,472.40 183.71,469.75 183.71,475.05" fill="#cf9a12"/>
<polygon points="200.51,472.20 205.07,469.55 205.07,474.85" fill="#cf9a12"/>
<polygon points="221.87,472.20 226.43,469.55 226.43,474.85" fill="#cf9a12"/>
<polygon points="243.23,473.40 247.79,470.75 247.79,476.05" fill="#cf9a12"/>
<polygon points="264.59,471.30 269.15,468.65 269.15,473.95" fill="#cf9a12"/>
<polygon points="285.95,472.20 290.51,469.55 290.51,474.85" fill="#cf9a12"/>
<path d="M82.30,311.60h27.4" stroke="#ababab" stroke-width="1.0"/>
<rect x="93.80" y="309.40" width="4.41" height="4.41" fill="#404040"/>
<text x="113.60" y="315.50" font-size="12.8" text-anchor="start" font-weight="normal" fill="#1a1a1a" >315.8 nm</text>
<path d="M82.30,327.00h27.4" stroke="#f5baba" stroke-width="1.0"/>
<circle cx="96.00" cy="327.00" r="2.42" fill="#ee3a3a"/>
<text x="113.60" y="330.90" font-size="12.8" text-anchor="start" font-weight="normal" fill="#1a1a1a" >337.2 nm</text>
<path d="M82.30,341.90h27.4" stroke="#afcbf0" stroke-width="1.0"/>
<polygon points="96.00,339.12 98.78,343.90 93.22,343.90" fill="#1f6fdc"/>
<text x="113.60" y="345.80" font-size="12.8" text-anchor="start" font-weight="normal" fill="#1a1a1a" >357.7 nm</text>
<path d="M169.50,311.60h27.4" stroke="#b0dfc9" stroke-width="1.0"/>
<polygon points="183.20,314.38 185.98,309.60 180.42,309.60" fill="#25a263"/>
<text x="201.30" y="315.50" font-size="12.8" text-anchor="start" font-weight="normal" fill="#1a1a1a" >380.6 nm</text>
<path d="M169.50,327.00h27.4" stroke="#dacbf4" stroke-width="1.0"/>
<polygon points="183.20,324.22 185.98,327.00 183.20,329.78 180.42,327.00" fill="#a66ce2"/>
<text x="201.30" y="330.90" font-size="12.8" text-anchor="start" font-weight="normal" fill="#1a1a1a" >391.3 nm</text>
<path d="M169.50,341.90h27.4" stroke="#eadba4" stroke-width="1.0"/>
<polygon points="180.42,341.90 185.20,339.12 185.20,344.68" fill="#cf9a12"/>
<text x="201.30" y="345.80" font-size="12.8" text-anchor="start" font-weight="normal" fill="#1a1a1a" >427.9 nm</text>
<rect x="75.30" y="299.20" width="234.60" height="189.00" fill="none" stroke="#8a8a8a" stroke-width="1.2"/>
<path d="M96.36,488.20v-2.0M96.36,299.20v2.0M117.72,488.20v-3.6M117.72,299.20v3.6M139.08,488.20v-2.0M139.08,299.20v2.0M160.44,488.20v-3.6M160.44,299.20v3.6M181.80,488.20v-2.0M181.80,299.20v2.0M203.16,488.20v-3.6M203.16,299.20v3.6M224.52,488.20v-2.0M224.52,299.20v2.0M245.88,488.20v-3.6M245.88,299.20v3.6M267.24,488.20v-2.0M267.24,299.20v2.0M288.60,488.20v-3.6M288.60,299.20v3.6M75.30,482.30h3.6M309.90,482.30h-3.6M75.30,421.20h3.6M309.90,421.20h-3.6M75.30,360.10h3.6M309.90,360.10h-3.6M75.30,299.00h3.6M309.90,299.00h-3.6M75.30,451.75h2M309.90,451.75h-2M75.30,390.65h2M309.90,390.65h-2M75.30,329.55h2M309.90,329.55h-2" stroke="#6a6a6a" stroke-width="0.9" fill="none"/>
<text x="75.00" y="501.80" font-size="12.4" text-anchor="middle" font-weight="normal" fill="#1a1a1a" >0</text>
<text x="117.72" y="501.80" font-size="12.4" text-anchor="middle" font-weight="normal" fill="#1a1a1a" >2</text>
<text x="160.44" y="501.80" font-size="12.4" text-anchor="middle" font-weight="normal" fill="#1a1a1a" >4</text>
<text x="203.16" y="501.80" font-size="12.4" text-anchor="middle" font-weight="normal" fill="#1a1a1a" >6</text>
<text x="245.88" y="501.80" font-size="12.4" text-anchor="middle" font-weight="normal" fill="#1a1a1a" >8</text>
<text x="288.60" y="501.80" font-size="12.4" text-anchor="middle" font-weight="normal" fill="#1a1a1a" >10</text>
<text x="71.40" y="485.80" font-size="12.4" text-anchor="end" font-weight="normal" fill="#1a1a1a" >0</text>
<text x="71.40" y="425.80" font-size="12.4" text-anchor="end" fill="#1a1a1a">1x10<tspan font-size="8.6" dy="-5.5">3</tspan></text>
<text x="71.40" y="364.70" font-size="12.4" text-anchor="end" fill="#1a1a1a">2x10<tspan font-size="8.6" dy="-5.5">3</tspan></text>
<text x="71.40" y="303.60" font-size="12.4" text-anchor="end" fill="#1a1a1a">3x10<tspan font-size="8.6" dy="-5.5">3</tspan></text>
<text x="192.50" y="522.40" font-size="14.4" text-anchor="middle" font-weight="bold" fill="#000" >Time (s)</text>
<text x="0" y="0" font-size="14.25" font-weight="bold" fill="#000" transform="translate(29.90,458.00) rotate(-90)">Intensity (arb. unit)</text>
<text x="334.30" y="286.30" font-size="17.5" text-anchor="start" font-weight="bold" fill="#000" >D</text>
<text x="513.80" y="291.50" font-size="14.8" text-anchor="middle" font-weight="normal" fill="#1a1a1a" >5 Torr, zone 2</text>
<path d="M422.91,425.70 L444.22,425.20 L465.53,424.80 L486.84,423.70 L508.15,420.50 L529.46,417.80 L550.77,415.90 L572.08,412.20 L593.39,410.80 L614.70,408.50" fill="none" stroke="#ababab" stroke-width="0.8"/>
<path d="M508.15,416.50V424.50M506.35,416.50h3.6M506.35,424.50h3.6" stroke="#c8c8c8" stroke-width="0.75" fill="none"/>
<path d="M529.46,415.80V419.80M527.66,415.80h3.6M527.66,419.80h3.6" stroke="#c8c8c8" stroke-width="0.75" fill="none"/>
<path d="M550.77,414.40V417.40M548.97,414.40h3.6M548.97,417.40h3.6" stroke="#c8c8c8" stroke-width="0.75" fill="none"/>
<path d="M572.08,410.20V414.20M570.28,410.20h3.6M570.28,414.20h3.6" stroke="#c8c8c8" stroke-width="0.75" fill="none"/>
<path d="M593.39,407.80V413.80M591.59,407.80h3.6M591.59,413.80h3.6" stroke="#c8c8c8" stroke-width="0.75" fill="none"/>
<rect x="420.81" y="423.60" width="4.20" height="4.20" fill="#404040"/>
<rect x="442.12" y="423.10" width="4.20" height="4.20" fill="#404040"/>
<rect x="463.43" y="422.70" width="4.20" height="4.20" fill="#404040"/>
<rect x="484.74" y="421.60" width="4.20" height="4.20" fill="#404040"/>
<rect x="506.05" y="418.40" width="4.20" height="4.20" fill="#404040"/>
<rect x="527.36" y="415.70" width="4.20" height="4.20" fill="#404040"/>
<rect x="548.67" y="413.80" width="4.20" height="4.20" fill="#404040"/>
<rect x="569.98" y="410.10" width="4.20" height="4.20" fill="#404040"/>
<rect x="591.29" y="408.70" width="4.20" height="4.20" fill="#404040"/>
<rect x="612.60" y="406.40" width="4.20" height="4.20" fill="#404040"/>
<path d="M422.91,370.00 L444.22,371.40 L465.53,369.60 L486.84,367.00 L508.15,364.00 L529.46,360.10 L550.77,354.40 L572.08,349.40 L593.39,346.70 L614.70,343.40" fill="none" stroke="#f5baba" stroke-width="0.8"/>
<path d="M465.53,365.10V374.10M463.73,365.10h3.6M463.73,374.10h3.6" stroke="#f8d2d2" stroke-width="0.75" fill="none"/>
<path d="M486.84,364.00V370.00M485.04,364.00h3.6M485.04,370.00h3.6" stroke="#f8d2d2" stroke-width="0.75" fill="none"/>
<path d="M508.15,357.70V370.30M506.35,357.70h3.6M506.35,370.30h3.6" stroke="#f8d2d2" stroke-width="0.75" fill="none"/>
<path d="M529.46,352.10V368.10M527.66,352.10h3.6M527.66,368.10h3.6" stroke="#f8d2d2" stroke-width="0.75" fill="none"/>
<path d="M550.77,346.60V362.20M548.97,346.60h3.6M548.97,362.20h3.6" stroke="#f8d2d2" stroke-width="0.75" fill="none"/>
<path d="M572.08,342.40V356.40M570.28,342.40h3.6M570.28,356.40h3.6" stroke="#f8d2d2" stroke-width="0.75" fill="none"/>
<path d="M593.39,340.70V352.70M591.59,340.70h3.6M591.59,352.70h3.6" stroke="#f8d2d2" stroke-width="0.75" fill="none"/>
<path d="M614.70,332.20V354.60M612.90,332.20h3.6M612.90,354.60h3.6" stroke="#f8d2d2" stroke-width="0.75" fill="none"/>
<circle cx="422.91" cy="370.00" r="2.55" fill="#ee3a3a"/>
<circle cx="444.22" cy="371.40" r="2.55" fill="#ee3a3a"/>
<circle cx="465.53" cy="369.60" r="2.55" fill="#ee3a3a"/>
<circle cx="486.84" cy="367.00" r="2.55" fill="#ee3a3a"/>
<circle cx="508.15" cy="364.00" r="2.55" fill="#ee3a3a"/>
<circle cx="529.46" cy="360.10" r="2.55" fill="#ee3a3a"/>
<circle cx="550.77" cy="354.40" r="2.55" fill="#ee3a3a"/>
<circle cx="572.08" cy="349.40" r="2.55" fill="#ee3a3a"/>
<circle cx="593.39" cy="346.70" r="2.55" fill="#ee3a3a"/>
<circle cx="614.70" cy="343.40" r="2.55" fill="#ee3a3a"/>
<path d="M422.91,465.90 L444.22,466.40 L465.53,466.10 L486.84,466.40 L508.15,465.90 L529.46,465.40 L550.77,465.20 L572.08,464.30 L593.39,463.40 L614.70,462.50" fill="none" stroke="#afcbf0" stroke-width="0.8"/>
<polygon points="422.91,463.25 425.56,467.81 420.26,467.81" fill="#1f6fdc"/>
<polygon points="444.22,463.75 446.87,468.31 441.57,468.31" fill="#1f6fdc"/>
<polygon points="465.53,463.45 468.18,468.01 462.88,468.01" fill="#1f6fdc"/>
<polygon points="486.84,463.75 489.49,468.31 484.19,468.31" fill="#1f6fdc"/>
<polygon points="508.15,463.25 510.80,467.81 505.50,467.81" fill="#1f6fdc"/>
<polygon points="529.46,462.75 532.11,467.31 526.81,467.31" fill="#1f6fdc"/>
<polygon points="550.77,462.55 553.42,467.11 548.12,467.11" fill="#1f6fdc"/>
<polygon points="572.08,461.65 574.73,466.21 569.43,466.21" fill="#1f6fdc"/>
<polygon points="593.39,460.75 596.04,465.31 590.74,465.31" fill="#1f6fdc"/>
<polygon points="614.70,459.85 617.35,464.41 612.05,464.41" fill="#1f6fdc"/>
<path d="M422.91,454.50 L444.22,455.90 L465.53,456.40 L486.84,455.00 L508.15,454.70 L529.46,453.00 L550.77,452.60 L572.08,451.90 L593.39,451.30 L614.70,449.90" fill="none" stroke="#b0dfc9" stroke-width="0.8"/>
<polygon points="422.91,457.15 425.56,452.59 420.26,452.59" fill="#25a263"/>
<polygon points="444.22,458.55 446.87,453.99 441.57,453.99" fill="#25a263"/>
<polygon points="465.53,459.05 468.18,454.49 462.88,454.49" fill="#25a263"/>
<polygon points="486.84,457.65 489.49,453.09 484.19,453.09" fill="#25a263"/>
<polygon points="508.15,457.35 510.80,452.79 505.50,452.79" fill="#25a263"/>
<polygon points="529.46,455.65 532.11,451.09 526.81,451.09" fill="#25a263"/>
<polygon points="550.77,455.25 553.42,450.69 548.12,450.69" fill="#25a263"/>
<polygon points="572.08,454.55 574.73,449.99 569.43,449.99" fill="#25a263"/>
<polygon points="593.39,453.95 596.04,449.39 590.74,449.39" fill="#25a263"/>
<polygon points="614.70,452.55 617.35,447.99 612.05,447.99" fill="#25a263"/>
<path d="M422.91,480.60 L444.22,480.60 L465.53,480.60 L486.84,480.60 L508.15,480.60 L529.46,480.60 L550.77,480.60 L572.08,480.60 L593.39,480.60 L614.70,480.60" fill="none" stroke="#dacbf4" stroke-width="0.8"/>
<polygon points="422.91,477.95 425.56,480.60 422.91,483.25 420.26,480.60" fill="#a66ce2"/>
<polygon points="444.22,477.95 446.87,480.60 444.22,483.25 441.57,480.60" fill="#a66ce2"/>
<polygon points="465.53,477.95 468.18,480.60 465.53,483.25 462.88,480.60" fill="#a66ce2"/>
<polygon points="486.84,477.95 489.49,480.60 486.84,483.25 484.19,480.60" fill="#a66ce2"/>
<polygon points="508.15,477.95 510.80,480.60 508.15,483.25 505.50,480.60" fill="#a66ce2"/>
<polygon points="529.46,477.95 532.11,480.60 529.46,483.25 526.81,480.60" fill="#a66ce2"/>
<polygon points="550.77,477.95 553.42,480.60 550.77,483.25 548.12,480.60" fill="#a66ce2"/>
<polygon points="572.08,477.95 574.73,480.60 572.08,483.25 569.43,480.60" fill="#a66ce2"/>
<polygon points="593.39,477.95 596.04,480.60 593.39,483.25 590.74,480.60" fill="#a66ce2"/>
<polygon points="614.70,477.95 617.35,480.60 614.70,483.25 612.05,480.60" fill="#a66ce2"/>
<path d="M422.91,478.60 L444.22,478.60 L465.53,478.60 L486.84,478.60 L508.15,478.60 L529.46,478.60 L550.77,478.60 L572.08,478.60 L593.39,478.60 L614.70,478.60" fill="none" stroke="#eadba4" stroke-width="0.8"/>
<polygon points="420.26,478.60 424.82,475.95 424.82,481.25" fill="#cf9a12"/>
<polygon points="441.57,478.60 446.13,475.95 446.13,481.25" fill="#cf9a12"/>
<polygon points="462.88,478.60 467.44,475.95 467.44,481.25" fill="#cf9a12"/>
<polygon points="484.19,478.60 488.75,475.95 488.75,481.25" fill="#cf9a12"/>
<polygon points="505.50,478.60 510.06,475.95 510.06,481.25" fill="#cf9a12"/>
<polygon points="526.81,478.60 531.37,475.95 531.37,481.25" fill="#cf9a12"/>
<polygon points="548.12,478.60 552.68,475.95 552.68,481.25" fill="#cf9a12"/>
<polygon points="569.43,478.60 573.99,475.95 573.99,481.25" fill="#cf9a12"/>
<polygon points="590.74,478.60 595.30,475.95 595.30,481.25" fill="#cf9a12"/>
<polygon points="612.05,478.60 616.61,475.95 616.61,481.25" fill="#cf9a12"/>
<path d="M404.00,310.80h27.4" stroke="#ababab" stroke-width="1.0"/>
<rect x="415.50" y="308.60" width="4.41" height="4.41" fill="#404040"/>
<text x="434.60" y="314.70" font-size="12.8" text-anchor="start" font-weight="normal" fill="#1a1a1a" >315.8 nm</text>
<path d="M404.00,326.20h27.4" stroke="#f5baba" stroke-width="1.0"/>
<circle cx="417.70" cy="326.20" r="2.42" fill="#ee3a3a"/>
<text x="434.60" y="330.10" font-size="12.8" text-anchor="start" font-weight="normal" fill="#1a1a1a" >337.2 nm</text>
<path d="M404.00,341.00h27.4" stroke="#afcbf0" stroke-width="1.0"/>
<polygon points="417.70,338.22 420.48,343.00 414.92,343.00" fill="#1f6fdc"/>
<text x="434.60" y="344.90" font-size="12.8" text-anchor="start" font-weight="normal" fill="#1a1a1a" >357.7 nm</text>
<path d="M489.10,310.80h27.4" stroke="#b0dfc9" stroke-width="1.0"/>
<polygon points="502.80,313.58 505.58,308.80 500.02,308.80" fill="#25a263"/>
<text x="520.20" y="314.70" font-size="12.8" text-anchor="start" font-weight="normal" fill="#1a1a1a" >380.6 nm</text>
<path d="M489.10,326.20h27.4" stroke="#dacbf4" stroke-width="1.0"/>
<polygon points="502.80,323.42 505.58,326.20 502.80,328.98 500.02,326.20" fill="#a66ce2"/>
<text x="520.20" y="330.10" font-size="12.8" text-anchor="start" font-weight="normal" fill="#1a1a1a" >391.3 nm</text>
<path d="M489.10,341.00h27.4" stroke="#eadba4" stroke-width="1.0"/>
<polygon points="500.02,341.00 504.80,338.22 504.80,343.78" fill="#cf9a12"/>
<text x="520.20" y="344.90" font-size="12.8" text-anchor="start" font-weight="normal" fill="#1a1a1a" >427.9 nm</text>
<rect x="401.80" y="300.70" width="234.40" height="188.60" fill="none" stroke="#555555" stroke-width="1.0"/>
<text x="401.60" y="502.90" font-size="12.4" text-anchor="middle" font-weight="normal" fill="#1a1a1a" >0</text>
<text x="444.22" y="502.90" font-size="12.4" text-anchor="middle" font-weight="normal" fill="#1a1a1a" >2</text>
<text x="486.84" y="502.90" font-size="12.4" text-anchor="middle" font-weight="normal" fill="#1a1a1a" >4</text>
<text x="529.46" y="502.90" font-size="12.4" text-anchor="middle" font-weight="normal" fill="#1a1a1a" >6</text>
<text x="572.08" y="502.90" font-size="12.4" text-anchor="middle" font-weight="normal" fill="#1a1a1a" >8</text>
<text x="614.70" y="502.90" font-size="12.4" text-anchor="middle" font-weight="normal" fill="#1a1a1a" >10</text>
<text x="397.90" y="484.30" font-size="12.4" text-anchor="end" font-weight="normal" fill="#1a1a1a" >0</text>
<text x="397.90" y="452.58" font-size="12.4" text-anchor="end" fill="#1a1a1a">2x10<tspan font-size="8.6" dy="-5.5">3</tspan></text>
<text x="397.90" y="419.76" font-size="12.4" text-anchor="end" fill="#1a1a1a">4x10<tspan font-size="8.6" dy="-5.5">3</tspan></text>
<text x="397.90" y="386.94" font-size="12.4" text-anchor="end" fill="#1a1a1a">6x10<tspan font-size="8.6" dy="-5.5">3</tspan></text>
<text x="397.90" y="354.12" font-size="12.4" text-anchor="end" fill="#1a1a1a">8x10<tspan font-size="8.6" dy="-5.5">3</tspan></text>
<text x="397.90" y="321.30" font-size="12.4" text-anchor="end" fill="#1a1a1a">1x10<tspan font-size="8.6" dy="-5.5">4</tspan></text>
<text x="519.20" y="523.70" font-size="14.4" text-anchor="middle" font-weight="bold" fill="#000" >Time (s)</text>
<text x="0" y="0" font-size="14.25" font-weight="bold" fill="#000" transform="translate(357.00,459.30) rotate(-90)">Intensity (arb. unit)</text>
</svg>
</body></html>
